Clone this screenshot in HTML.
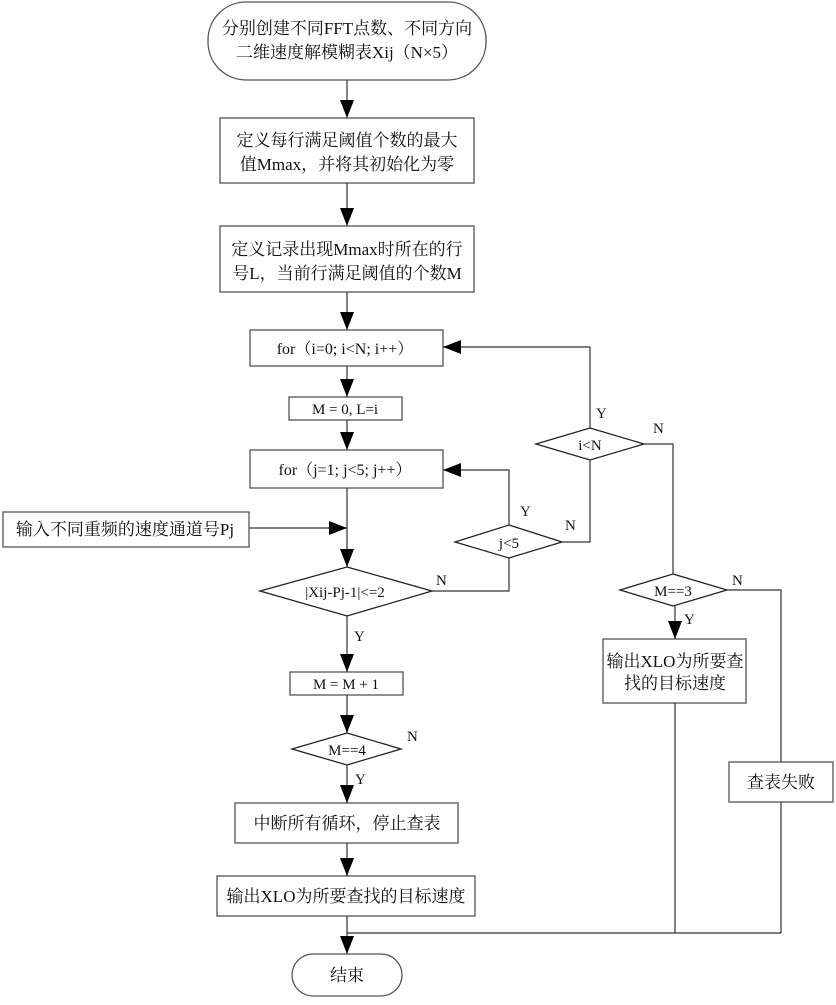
<!DOCTYPE html>
<html><head><meta charset="utf-8"><style>
html,body{margin:0;padding:0;background:#fff}
svg text{font-family:"Liberation Serif","Noto Serif CJK SC",serif;fill:#111}
</style></head><body>
<svg width="836" height="1000" viewBox="0 0 836 1000" xmlns="http://www.w3.org/2000/svg">
<defs><marker id="a" markerWidth="14" markerHeight="18" refX="13" refY="6" orient="auto" markerUnits="userSpaceOnUse"><path d="M0,0 L14,6 L0,12 z" fill="#000"/></marker>
<marker id="d" markerWidth="18" markerHeight="14" refX="18" refY="7" orient="auto" markerUnits="userSpaceOnUse" viewBox="0 0 18 14"><path d="M0,0 L18,7 L0,14 z" fill="#000"/></marker></defs>
<g fill="none" stroke="#555" stroke-width="1.3">
<rect x="208" y="2" width="278" height="78" rx="38"/>
<rect x="220" y="118" width="254" height="65"/>
<rect x="220" y="226" width="254" height="66"/>
<rect x="250" y="330" width="193" height="36"/>
<rect x="289" y="397" width="113" height="23"/>
<rect x="250" y="450" width="193" height="38"/>
<rect x="3" y="512" width="246" height="35"/>
<path d="M347,567 L432,591 L347,616 L260,591 Z" stroke="#222"/>
<path d="M509,525 L562,542 L509,558 L455,542 Z" stroke="#222"/>
<path d="M590,428 L644,444 L590,460 L536,444 Z" stroke="#222"/>
<path d="M673,574 L727,590 L673,606 L620,590 Z" stroke="#222"/>
<rect x="290" y="672" width="113" height="23"/>
<path d="M347,733 L401,749 L347,765 L292,749 Z" stroke="#222"/>
<rect x="603" y="639" width="143" height="64"/>
<rect x="729" y="762" width="104" height="40"/>
<rect x="235" y="803" width="223" height="40"/>
<rect x="217" y="876" width="258" height="40"/>
<rect x="292" y="954" width="110" height="42" rx="21"/>
</g>
<g fill="none" stroke="#333" stroke-width="1.2">
<line x1="347" y1="80" x2="347" y2="118" marker-end="url(#d)"/>
<line x1="347" y1="183" x2="347" y2="226" marker-end="url(#d)"/>
<line x1="347" y1="292" x2="347" y2="330" marker-end="url(#d)"/>
<line x1="347" y1="366" x2="347" y2="397" marker-end="url(#d)"/>
<line x1="347" y1="420" x2="347" y2="450" marker-end="url(#d)"/>
<line x1="347" y1="488" x2="347" y2="567" marker-end="url(#d)"/>
<line x1="249" y1="528" x2="347" y2="528" marker-end="url(#d)"/>
<line x1="347" y1="616" x2="347" y2="672" marker-end="url(#d)"/>
<line x1="347" y1="695" x2="347" y2="733" marker-end="url(#d)"/>
<line x1="347" y1="765" x2="347" y2="803" marker-end="url(#d)"/>
<line x1="347" y1="843" x2="347" y2="876" marker-end="url(#d)"/>
<line x1="347" y1="916" x2="347" y2="954" marker-end="url(#d)"/>
<polyline points="432,591 509,591 509,558"/>
<polyline points="509,525 509,470 443,470" marker-end="url(#d)"/>
<polyline points="562,542 590,542 590,460"/>
<polyline points="590,428 590,347 443,347" marker-end="url(#d)"/>
<polyline points="644,444 673,444 673,574"/>
<line x1="675" y1="606" x2="675" y2="639" marker-end="url(#d)"/>
<polyline points="727,590 781,590 781,762"/>
<line x1="781" y1="802" x2="781" y2="933"/>
<line x1="675" y1="703" x2="675" y2="933"/>
<line x1="347" y1="933" x2="781" y2="933"/>
</g>
<g font-size="17" text-anchor="middle">
<text x="347" y="34">分别创建不同FFT点数、不同方向</text>
<text x="347" y="58">二维速度解模糊表Xij（N×5）</text>
<text x="347" y="146">定义每行满足阈值个数的最大</text>
<text x="347" y="170">值Mmax，并将其初始化为零</text>
<text x="347" y="255">定义记录出现Mmax时所在的行</text>
<text x="347" y="279">号L，当前行满足阈值的个数M</text>
<text x="345" y="354" font-size="16">for（i=0; i&lt;N; i++）</text>
<text x="345" y="414" font-size="15">M = 0, L=i</text>
<text x="345" y="475" font-size="16">for（j=1; j&lt;5; j++）</text>
<text x="125" y="535">输入不同重频的速度通道号Pj</text>
<text x="345" y="597" font-size="15">|Xij-Pj-1|&lt;=2</text>
<text x="509" y="548" font-size="15">j&lt;5</text>
<text x="590" y="450" font-size="15">i&lt;N</text>
<text x="673" y="596" font-size="15">M==3</text>
<text x="346" y="689" font-size="15">M = M + 1</text>
<text x="347" y="755" font-size="15">M==4</text>
<text x="675" y="667">输出XLO为所要查</text>
<text x="675" y="689">找的目标速度</text>
<text x="781" y="788">查表失败</text>
<text x="347" y="829">中断所有循环，停止查表</text>
<text x="346" y="902">输出XLO为所要查找的目标速度</text>
<text x="347" y="981">结束</text>
</g>
<g font-size="15">
<text x="436" y="585">N</text>
<text x="354" y="641">Y</text>
<text x="407" y="741">N</text>
<text x="355" y="784">Y</text>
<text x="520" y="516">Y</text>
<text x="565" y="530">N</text>
<text x="596" y="418">Y</text>
<text x="653" y="433">N</text>
<text x="732" y="585">N</text>
<text x="684" y="624">Y</text>
</g>
</svg>
</body></html>
